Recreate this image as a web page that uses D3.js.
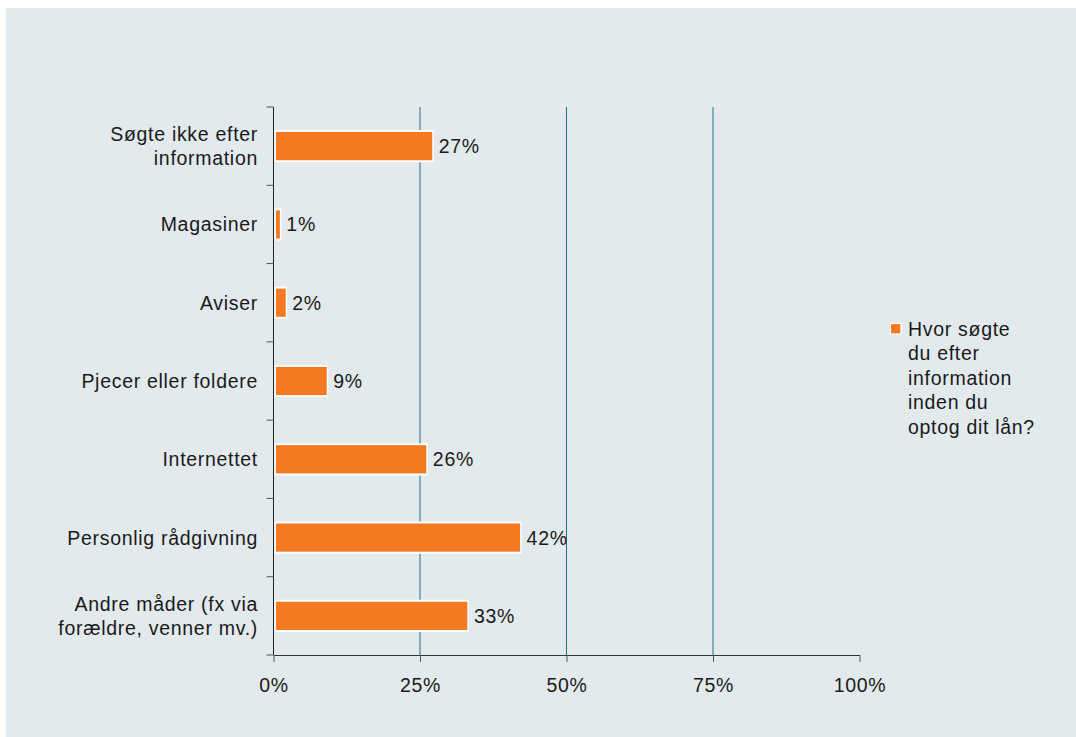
<!DOCTYPE html>
<html>
<head>
<meta charset="utf-8">
<script src="https://cdn.jsdelivr.net/npm/d3@7/dist/d3.min.js"></script>
<style>
  html, body { margin: 0; padding: 0; background: #ffffff; }
  svg { display: block; font-family: "Liberation Sans", Arial, sans-serif; }
  svg text { font-family: "Liberation Sans", Arial, sans-serif; font-size: 19.5px; letter-spacing: 0.7px; fill: #1a1a1a; }
</style>
</head>
<body>
<svg id="chart" width="1076" height="737"></svg>
<script>
// Category labels (top to bottom); each entry holds the wrapped lines
const categories = [
  ["Søgte ikke efter", "information"],
  ["Magasiner"],
  ["Aviser"],
  ["Pjecer eller foldere"],
  ["Internettet"],
  ["Personlig rådgivning"],
  ["Andre måder (fx via", "forældre, venner mv.)"]
];
const values = [27, 1, 2, 9, 26, 42, 33];
const xTicks = [0, 25, 50, 75, 100];
const legendLines = ["Hvor søgte", "du efter", "information", "inden du", "optog dit lån?"];

const svg = d3.select("#chart");

// panel background
svg.append("rect")
  .attr("x", 6).attr("y", 8)
  .attr("width", 1076 - 6).attr("height", 737 - 8)
  .attr("fill", "#e2eaed");

const plot = { left: 273.5, right: 859.5, top: 107, bottom: 655 };

const x = d3.scaleLinear().domain([0, 100]).range([plot.left, plot.right]);
const y = d3.scaleBand()
  .domain(d3.range(categories.length))
  .range([plot.top, plot.bottom])
  .paddingInner(0.64).paddingOuter(0.32);
const yEdges = d3.scaleLinear().domain([0, categories.length]).range([plot.top, plot.bottom]);
const lineH = 24.5;   // text line spacing
const baseOff = 7;    // baseline offset from a row's centre

// vertical gridlines
svg.append("g")
  .selectAll("line")
  .data(xTicks.filter(d => d > 0 && d < 100))
  .join("line")
  .attr("x1", d => x(d)).attr("x2", d => x(d))
  .attr("y1", plot.top).attr("y2", plot.bottom)
  .attr("stroke", "#20708a").attr("stroke-width", 1);

// bars: white outline behind, orange fill on top
const barG = svg.append("g");
barG.selectAll("rect.outline")
  .data(values)
  .join("rect")
  .attr("class", "outline")
  .attr("x", x(0) + 1)
  .attr("y", (d, i) => y(i) - 2)
  .attr("width", d => x(d) - x(0) + 1)
  .attr("height", y.bandwidth() + 4)
  .attr("rx", 1.5)
  .attr("fill", "#ffffff");
barG.selectAll("rect.bar")
  .data(values)
  .join("rect")
  .attr("class", "bar")
  .attr("x", x(0) + 2.5)
  .attr("y", (d, i) => y(i))
  .attr("width", d => Math.max(1, x(d) - x(0) - 2))
  .attr("height", y.bandwidth())
  .attr("fill", "#f47920");

// value labels
svg.append("g")
  .selectAll("text")
  .data(values)
  .join("text")
  .attr("x", d => x(d) + 7)
  .attr("y", (d, i) => y(i) + y.bandwidth() / 2 + baseOff)
  .text(d => d + "%");

// x axis
const xAxis = svg.append("g")
  .attr("transform", `translate(0,${plot.bottom})`)
  .call(d3.axisBottom(x).tickValues(xTicks).tickFormat(d => d + "%").tickSizeInner(7).tickSizeOuter(0).tickPadding(16));
xAxis.attr("font-size", null).attr("font-family", null);
xAxis.select(".domain").attr("stroke", "#333");
xAxis.selectAll(".tick line").attr("stroke", "#555");
xAxis.selectAll(".tick text").attr("fill", null);

// y axis line and category boundary ticks
svg.append("line")
  .attr("x1", plot.left).attr("x2", plot.left)
  .attr("y1", plot.top).attr("y2", plot.bottom)
  .attr("stroke", "#222").attr("stroke-width", 1);
svg.append("g")
  .selectAll("line")
  .data(d3.range(categories.length + 1))
  .join("line")
  .attr("x1", plot.left - 7).attr("x2", plot.left)
  .attr("y1", d => yEdges(d)).attr("y2", d => yEdges(d))
  .attr("stroke", "#555");

// category labels
const catG = svg.append("g");
categories.forEach((lines, i) => {
  const cy = y(i) + y.bandwidth() / 2;
  const t = catG.append("text").attr("text-anchor", "end");
  lines.forEach((ln, j) => {
    t.append("tspan")
      .attr("x", 258)
      .attr("y", cy + baseOff + (j - (lines.length - 1) / 2) * lineH)
      .text(ln);
  });
});

// legend
const lg = svg.append("g").attr("transform", "translate(890.5,323.5)");
lg.append("rect")
  .attr("x", 0).attr("y", 0).attr("width", 10.5).attr("height", 10.5)
  .attr("fill", "#f47920").attr("stroke", "#ffffff").attr("stroke-width", 1.2);
const lt = lg.append("text");
legendLines.forEach((ln, j) => {
  lt.append("tspan").attr("x", 17.5).attr("y", 12 + j * lineH).text(ln);
});
</script>
</body>
</html>
